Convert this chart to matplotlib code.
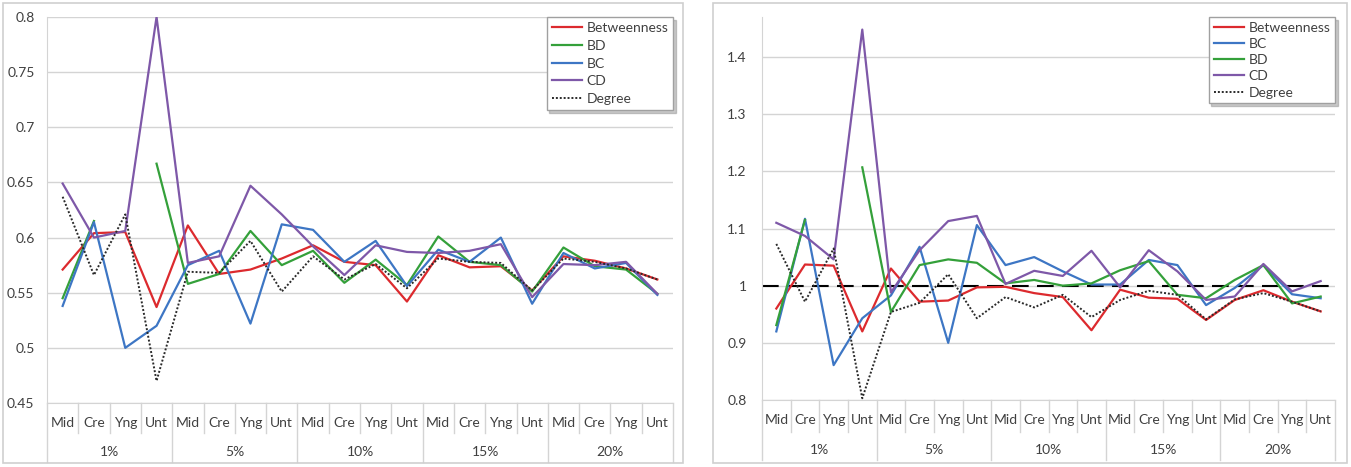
import numpy as np
import matplotlib
matplotlib.use("Agg")
import matplotlib.pyplot as plt
import matplotlib.transforms as mtransforms
from matplotlib.patches import Rectangle

plt.rcParams['font.family'] = ['Lato', 'DejaVu Sans']

# ---- data ----
groups = ['1%', '5%', '10%', '15%', '20%']
cats = ['Mid', 'Cre', 'Yng', 'Unt']
nan = np.nan

# left chart
left_betweenness = [0.571, 0.604, 0.605, 0.537, 0.611, 0.567, 0.571, 0.581, 0.593, 0.578,
                    0.575, 0.542, 0.584, 0.573, 0.574, 0.552, 0.583, 0.579, 0.572, 0.562]
left_bd = [0.545, 0.615, nan, 0.667, 0.558, 0.567, 0.606, 0.575, 0.588, 0.559,
           0.580, 0.557, 0.601, 0.578, 0.575, 0.551, 0.591, 0.574, 0.571, 0.549]
left_bc = [0.538, 0.614, 0.500, 0.520, 0.575, 0.588, 0.522, 0.612, 0.607, 0.578,
           0.597, 0.556, 0.589, 0.578, 0.600, 0.540, 0.586, 0.572, 0.577, 0.548]
left_cd = [0.649, 0.600, 0.606, 0.800, 0.577, 0.583, 0.647, 0.621, 0.592, 0.566,
           0.593, 0.587, 0.586, 0.588, 0.594, 0.546, 0.576, 0.575, 0.578, 0.549]
left_degree = [0.637, 0.566, 0.621, 0.470, 0.569, 0.568, 0.597, 0.551, 0.583, 0.562,
               0.576, 0.554, 0.581, 0.578, 0.577, 0.552, 0.581, 0.578, 0.572, 0.562]

# right chart
right_betweenness = [0.960, 1.037, 1.035, 0.920, 1.030, 0.972, 0.974, 0.997, 0.998, 0.987,
                     0.980, 0.922, 0.993, 0.979, 0.977, 0.940, 0.975, 0.992, 0.972, 0.955]
right_bc = [0.920, 1.117, 0.861, 0.943, 0.983, 1.068, 0.900, 1.106, 1.036, 1.050,
            1.025, 1.002, 1.002, 1.045, 1.036, 0.966, 0.996, 1.036, 0.985, 0.978]
right_bd = [0.931, 1.115, nan, 1.207, 0.954, 1.036, 1.046, 1.040, 1.004, 1.010,
            1.000, 1.004, 1.027, 1.043, 0.984, 0.978, 1.010, 1.036, 0.969, 0.981]
right_cd = [1.110, 1.087, 1.046, 1.448, 0.988, 1.062, 1.113, 1.122, 1.003, 1.026,
            1.017, 1.061, 0.997, 1.062, 1.025, 0.975, 0.981, 1.038, 0.990, 1.008]
right_degree = [1.073, 0.972, 1.065, 0.803, 0.954, 0.970, 1.020, 0.943, 0.980, 0.962,
                0.984, 0.945, 0.975, 0.991, 0.984, 0.941, 0.976, 0.987, 0.972, 0.955]

RED = '#DC2A2E'
GREEN = '#34A03A'
BLUE = '#3D76C4'
PURPLE = '#7E58A8'
TXT = '#404040'
GRID = '#D4D4D4'

W, H = 1351, 467
fig = plt.figure(figsize=(W / 100, H / 100), dpi=100)

def px_axes(x0, x1, ytop, ybot):
    return fig.add_axes([x0 / W, (H - ybot) / H, (x1 - x0) / W, (ybot - ytop) / H])

# chart frames
for (x0, y0, x1, y1) in [(3, 3, 683, 463), (713, 3, 1347, 463)]:
    fig.patches.append(Rectangle((x0 / W, (H - y1) / H), (x1 - x0) / W, (y1 - y0) / H,
                                 transform=fig.transFigure, fill=False,
                                 edgecolor='#CFCFCF', linewidth=1.2))


def setup(ax, ylim, yticks, ylabels, row1_y, row2_y, sep1_y, sep2_y, ypad):
    n = len(groups) * len(cats)
    x = np.arange(n)
    ax.set_xlim(-0.5, n - 0.5)
    ax.set_ylim(*ylim)
    ax.set_yticks(yticks)
    ax.set_yticklabels(ylabels)
    ax.tick_params(axis='y', length=0, pad=ypad, labelsize=10, labelcolor=TXT)
    ax.set_xticks([])
    for s in ['top', 'right']:
        ax.spines[s].set_visible(False)
    ax.spines['left'].set_color(GRID)
    ax.spines['bottom'].set_color(GRID)
    ax.grid(axis='y', color=GRID, linewidth=1)
    ax.set_axisbelow(True)
    trans = mtransforms.blended_transform_factory(ax.transData, ax.transAxes)
    for i in range(n):
        ax.text(x[i], row1_y, cats[i % len(cats)], transform=trans, ha='center',
                va='center', fontsize=10, color=TXT)
    for g, name in enumerate(groups):
        ax.text(g * len(cats) + 1.5, row2_y, name, transform=trans, ha='center',
                va='center', fontsize=10, color=TXT)
    for b in range(n + 1):
        y_end = sep2_y if b % len(cats) == 0 else sep1_y
        ax.plot([b - 0.5, b - 0.5], [0, y_end], transform=trans, color=GRID,
                linewidth=1, clip_on=False)
    return x


def add_legend(ax, spacing):
    leg = ax.legend(loc='upper right', bbox_to_anchor=(1.0, 1.0), borderaxespad=0,
                    fontsize=10, frameon=True, fancybox=False,
                    shadow={'color': '#888888', 'alpha': 0.45},
                    labelspacing=spacing, handlelength=2.2, handletextpad=0.3,
                    borderpad=0.35)
    leg.get_frame().set_edgecolor('#A0A0A0')
    leg.get_frame().set_alpha(1.0)
    for t in leg.get_texts():
        t.set_color(TXT)
    return leg


# ---- left chart ----
axL = px_axes(47, 673, 17, 403)
x = setup(axL, (0.45, 0.8), np.arange(0.45, 0.801, 0.05),
          ['0.45', '0.5', '0.55', '0.6', '0.65', '0.7', '0.75', '0.8'],
          -0.052, -0.127, -0.078, -0.153, 9)
axL.plot(x, left_betweenness, color=RED, lw=1.6, label='Betweenness')
axL.plot(x, left_bd, color=GREEN, lw=1.6, label='BD')
axL.plot(x, left_bc, color=BLUE, lw=1.6, label='BC')
axL.plot(x, left_cd, color=PURPLE, lw=1.6, label='CD')
axL.plot(x, left_degree, color='#2A2A2A', lw=1.4, ls=(0, (1, 1)), label='Degree')
add_legend(axL, 0.42)

# ---- right chart ----
axR = px_axes(762, 1335, 17, 400)
x = setup(axR, (0.8, 1.47), np.arange(0.8, 1.401, 0.1),
          ['0.8', '0.9', '1', '1.1', '1.2', '1.3', '1.4'],
          -0.052, -0.130, -0.083, -0.156, 11)
axR.axhline(1.0, color='black', lw=1.5, ls=(0, (8, 4)), zorder=1.5)
axR.plot(x, right_betweenness, color=RED, lw=1.6, label='Betweenness')
axR.plot(x, right_bc, color=BLUE, lw=1.6, label='BC')
axR.plot(x, right_bd, color=GREEN, lw=1.6, label='BD')
axR.plot(x, right_cd, color=PURPLE, lw=1.6, label='CD')
axR.plot(x, right_degree, color='#2A2A2A', lw=1.4, ls=(0, (1, 1)), label='Degree')
add_legend(axR, 0.3)

fig.savefig('out.png', dpi=100)
